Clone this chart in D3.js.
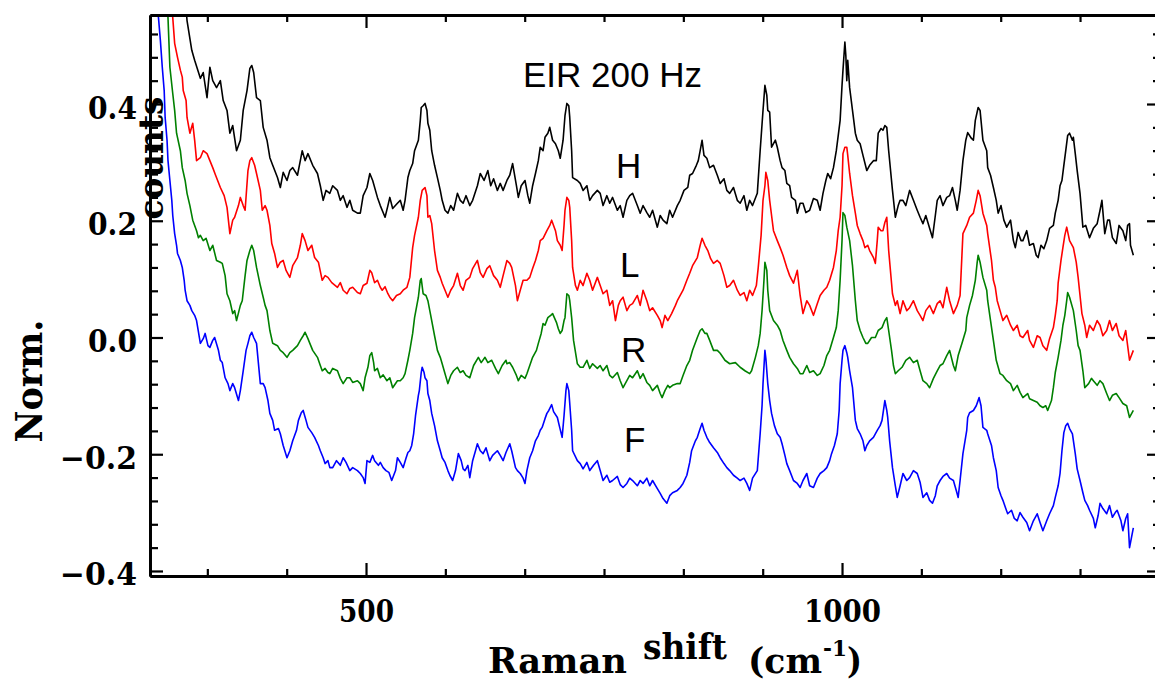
<!DOCTYPE html>
<html>
<head>
<meta charset="utf-8">
<script src="https://cdn.jsdelivr.net/npm/d3@7"></script>
<style>
  body{margin:0;background:#fff}
  svg{display:block}
</style>
</head>
<body>
<script>
// ticks
const xMajor=[500,1000]
const xMinor=[333.33,416.67,583.33,666.67,750,833.33,916.67,1083.33,1166.67,1250,1333.33]
const yMajor=[-0.4,-0.2,0,0.2,0.4]
const yMinor=[-0.36,-0.32,-0.28,-0.24,-0.16,-0.12,-0.08,-0.04,0.04,0.08,0.12,0.16,0.24,0.28,0.32,0.36,0.44,0.48,0.52]
const yLabels=["\u22120.4","\u22120.2","0.0","0.2","0.4"]
const seriesNames=["H","L","R","F"]

// [Raman shift cm-1, normalised counts]
const seriesH=[[309,0.600],[312,0.543],[317,0.492],[320,0.475],[326,0.444],[329,0.454],[333,0.411],[336,0.463],[339,0.440],[343,0.428],[347,0.440],[350,0.406],[354,0.389],[357,0.350],[360,0.363],[364,0.320],[368,0.338],[371,0.389],[375,0.423],[378,0.461],[380,0.466],[382,0.454],[385,0.411],[389,0.406],[392,0.360],[396,0.338],[399,0.308],[402,0.295],[407,0.274],[410,0.257],[413,0.283],[417,0.269],[420,0.286],[423,0.291],[428,0.278],[431,0.303],[433,0.320],[436,0.303],[439,0.315],[444,0.295],[449,0.281],[452,0.260],[455,0.235],[458,0.252],[462,0.247],[465,0.260],[470,0.252],[473,0.235],[476,0.243],[480,0.223],[483,0.235],[486,0.218],[491,0.213],[494,0.213],[497,0.243],[501,0.257],[504,0.281],[507,0.269],[512,0.240],[515,0.226],[520,0.206],[523,0.226],[525,0.240],[528,0.221],[533,0.230],[536,0.235],[539,0.218],[541,0.235],[544,0.274],[546,0.286],[549,0.298],[551,0.320],[555,0.338],[557,0.372],[558,0.394],[560,0.397],[562,0.401],[564,0.389],[565,0.367],[567,0.355],[569,0.320],[572,0.295],[575,0.274],[578,0.252],[580,0.235],[583,0.218],[586,0.213],[589,0.226],[592,0.218],[596,0.247],[599,0.235],[602,0.230],[605,0.243],[609,0.226],[612,0.235],[617,0.260],[620,0.281],[624,0.269],[628,0.286],[631,0.260],[634,0.272],[638,0.252],[641,0.264],[644,0.252],[648,0.269],[651,0.278],[654,0.298],[658,0.260],[660,0.240],[663,0.260],[667,0.269],[670,0.243],[672,0.230],[675,0.260],[678,0.281],[681,0.303],[683,0.326],[686,0.320],[688,0.343],[691,0.350],[693,0.360],[696,0.338],[699,0.332],[702,0.320],[704,0.307],[707,0.338],[709,0.380],[711,0.401],[713,0.397],[714,0.377],[716,0.320],[717,0.274],[722,0.269],[725,0.264],[728,0.252],[732,0.260],[735,0.235],[738,0.243],[743,0.252],[746,0.247],[749,0.226],[753,0.243],[756,0.230],[759,0.240],[764,0.218],[767,0.226],[770,0.206],[774,0.235],[777,0.243],[780,0.247],[785,0.226],[788,0.213],[791,0.226],[795,0.214],[798,0.206],[801,0.218],[806,0.189],[809,0.209],[812,0.201],[816,0.195],[819,0.218],[822,0.206],[827,0.226],[830,0.235],[834,0.252],[838,0.257],[840,0.278],[843,0.281],[847,0.295],[849,0.303],[851,0.320],[853,0.338],[855,0.312],[858,0.307],[861,0.291],[865,0.295],[869,0.278],[872,0.264],[876,0.272],[879,0.252],[882,0.247],[886,0.257],[890,0.235],[893,0.230],[897,0.243],[900,0.218],[903,0.235],[906,0.226],[911,0.247],[914,0.320],[917,0.389],[919,0.432],[921,0.415],[922,0.389],[924,0.386],[926,0.326],[930,0.338],[932,0.326],[935,0.303],[937,0.291],[940,0.286],[942,0.264],[945,0.260],[947,0.240],[951,0.235],[953,0.213],[956,0.230],[959,0.230],[962,0.214],[966,0.218],[970,0.238],[974,0.235],[977,0.218],[980,0.247],[983,0.269],[985,0.281],[988,0.272],[991,0.291],[994,0.320],[996,0.346],[998,0.372],[1000,0.432],[1001,0.458],[1003,0.506],[1004,0.483],[1005,0.440],[1006,0.475],[1008,0.428],[1011,0.389],[1014,0.350],[1016,0.338],[1019,0.332],[1022,0.312],[1026,0.286],[1029,0.295],[1033,0.303],[1036,0.303],[1038,0.350],[1041,0.358],[1043,0.355],[1045,0.363],[1047,0.360],[1049,0.320],[1053,0.252],[1056,0.206],[1059,0.226],[1061,0.235],[1064,0.235],[1067,0.226],[1071,0.252],[1075,0.235],[1079,0.218],[1082,0.206],[1085,0.195],[1088,0.209],[1092,0.187],[1095,0.171],[1098,0.209],[1100,0.235],[1103,0.243],[1106,0.226],[1110,0.240],[1113,0.243],[1116,0.257],[1119,0.235],[1121,0.218],[1124,0.252],[1127,0.303],[1130,0.338],[1132,0.351],[1136,0.341],[1138,0.338],[1140,0.372],[1143,0.394],[1145,0.389],[1148,0.338],[1152,0.320],[1153,0.291],[1156,0.278],[1159,0.257],[1162,0.235],[1164,0.213],[1167,0.226],[1170,0.201],[1173,0.189],[1177,0.201],[1180,0.166],[1182,0.154],[1185,0.180],[1188,0.166],[1190,0.166],[1194,0.183],[1197,0.158],[1201,0.161],[1204,0.141],[1206,0.137],[1209,0.158],[1212,0.152],[1215,0.166],[1218,0.187],[1222,0.192],[1224,0.213],[1227,0.235],[1229,0.260],[1231,0.269],[1233,0.295],[1235,0.320],[1237,0.346],[1239,0.350],[1242,0.338],[1243,0.343],[1245,0.315],[1247,0.286],[1250,0.247],[1253,0.189],[1256,0.192],[1260,0.171],[1264,0.187],[1268,0.195],[1271,0.218],[1273,0.235],[1276,0.178],[1279,0.201],[1281,0.201],[1284,0.171],[1288,0.161],[1291,0.192],[1295,0.183],[1298,0.166],[1300,0.192],[1302,0.195],[1303,0.158],[1306,0.141]]

const seriesL=[[294,0.586],[297,0.548],[299,0.504],[302,0.480],[305,0.458],[307,0.446],[308,0.423],[311,0.406],[312,0.377],[315,0.350],[318,0.367],[320,0.338],[322,0.303],[326,0.308],[329,0.320],[333,0.315],[336,0.303],[339,0.291],[342,0.278],[347,0.257],[351,0.243],[354,0.223],[357,0.178],[360,0.201],[362,0.206],[366,0.226],[368,0.240],[371,0.226],[373,0.218],[376,0.286],[378,0.303],[380,0.308],[383,0.295],[385,0.281],[389,0.252],[391,0.218],[394,0.226],[396,0.218],[399,0.192],[401,0.161],[404,0.144],[407,0.120],[410,0.129],[413,0.132],[416,0.115],[420,0.103],[423,0.123],[428,0.137],[431,0.158],[433,0.178],[436,0.166],[439,0.149],[443,0.158],[446,0.137],[450,0.129],[454,0.098],[457,0.106],[460,0.103],[464,0.094],[470,0.086],[473,0.094],[476,0.081],[480,0.075],[483,0.084],[486,0.086],[491,0.077],[494,0.075],[497,0.089],[501,0.093],[504,0.115],[506,0.111],[509,0.094],[512,0.098],[515,0.086],[517,0.081],[520,0.087],[523,0.075],[525,0.069],[528,0.063],[532,0.072],[536,0.075],[539,0.081],[543,0.086],[546,0.103],[549,0.154],[551,0.175],[555,0.206],[557,0.235],[559,0.252],[562,0.257],[564,0.243],[565,0.206],[567,0.209],[569,0.195],[572,0.149],[575,0.115],[578,0.103],[580,0.093],[583,0.081],[586,0.069],[589,0.081],[592,0.089],[596,0.110],[599,0.089],[602,0.081],[605,0.098],[609,0.103],[612,0.118],[617,0.132],[620,0.111],[623,0.103],[627,0.118],[630,0.123],[634,0.106],[638,0.098],[641,0.086],[644,0.106],[648,0.132],[651,0.127],[653,0.120],[657,0.089],[659,0.063],[662,0.081],[665,0.098],[669,0.098],[672,0.103],[675,0.118],[678,0.132],[681,0.149],[683,0.166],[686,0.170],[690,0.183],[693,0.192],[695,0.201],[699,0.183],[701,0.166],[704,0.158],[706,0.149],[708,0.192],[709,0.218],[711,0.240],[713,0.235],[714,0.223],[716,0.166],[717,0.120],[720,0.089],[722,0.081],[725,0.098],[728,0.089],[732,0.110],[735,0.098],[738,0.081],[743,0.103],[746,0.089],[749,0.075],[753,0.081],[756,0.055],[759,0.063],[762,0.029],[765,0.055],[767,0.063],[770,0.069],[774,0.046],[777,0.055],[780,0.058],[785,0.072],[788,0.055],[791,0.081],[795,0.063],[798,0.046],[801,0.051],[806,0.038],[809,0.029],[811,0.017],[814,0.038],[817,0.029],[821,0.041],[825,0.055],[827,0.063],[830,0.072],[833,0.081],[837,0.098],[840,0.110],[843,0.123],[848,0.137],[851,0.158],[853,0.170],[856,0.158],[859,0.149],[862,0.135],[865,0.127],[869,0.132],[872,0.127],[876,0.106],[879,0.086],[882,0.089],[886,0.098],[890,0.081],[893,0.072],[897,0.077],[900,0.063],[903,0.081],[906,0.072],[910,0.089],[912,0.120],[915,0.175],[917,0.235],[919,0.260],[920,0.283],[922,0.269],[924,0.235],[926,0.209],[928,0.183],[932,0.166],[935,0.154],[938,0.141],[942,0.120],[945,0.106],[949,0.093],[953,0.115],[956,0.072],[959,0.041],[963,0.063],[966,0.055],[970,0.038],[974,0.058],[977,0.072],[981,0.081],[984,0.086],[987,0.098],[991,0.120],[994,0.149],[996,0.183],[998,0.206],[1000,0.260],[1001,0.315],[1003,0.326],[1005,0.326],[1006,0.312],[1008,0.281],[1011,0.243],[1014,0.213],[1016,0.192],[1019,0.178],[1022,0.166],[1024,0.154],[1027,0.158],[1029,0.149],[1033,0.137],[1035,0.127],[1037,0.166],[1038,0.189],[1041,0.183],[1043,0.183],[1045,0.197],[1047,0.206],[1049,0.149],[1053,0.075],[1056,0.055],[1058,0.063],[1061,0.041],[1064,0.063],[1068,0.046],[1071,0.051],[1075,0.063],[1079,0.046],[1082,0.038],[1085,0.029],[1088,0.046],[1092,0.055],[1096,0.041],[1100,0.058],[1103,0.063],[1106,0.051],[1110,0.086],[1113,0.063],[1117,0.041],[1121,0.055],[1124,0.072],[1127,0.178],[1131,0.192],[1134,0.206],[1138,0.213],[1141,0.235],[1143,0.252],[1145,0.243],[1148,0.213],[1152,0.192],[1153,0.178],[1157,0.132],[1159,0.098],[1161,0.086],[1163,0.063],[1166,0.046],[1169,0.029],[1173,0.038],[1177,0.021],[1180,0.012],[1184,0.021],[1187,0.003],[1190,0.000],[1195,0.012],[1197,-0.005],[1201,-0.017],[1205,0.003],[1208,0.000],[1211,-0.014],[1215,-0.022],[1218,-0.002],[1222,0.017],[1224,0.038],[1226,0.063],[1227,0.093],[1230,0.132],[1232,0.154],[1234,0.175],[1236,0.189],[1239,0.166],[1243,0.154],[1246,0.129],[1248,0.103],[1250,0.072],[1252,0.041],[1255,0.021],[1257,0.000],[1260,0.021],[1264,0.012],[1268,0.029],[1271,0.021],[1274,0.003],[1278,0.012],[1281,0.029],[1284,0.012],[1288,0.024],[1291,0.003],[1295,-0.005],[1298,0.012],[1300,-0.014],[1302,-0.039],[1306,-0.022]]

const seriesR=[[290,0.586],[292,0.548],[294,0.463],[297,0.418],[299,0.389],[301,0.350],[305,0.320],[307,0.291],[310,0.269],[312,0.247],[315,0.226],[318,0.201],[322,0.183],[324,0.171],[326,0.175],[329,0.166],[332,0.170],[336,0.149],[339,0.158],[343,0.132],[347,0.129],[349,0.127],[352,0.106],[354,0.075],[357,0.063],[360,0.041],[362,0.046],[364,0.029],[368,0.055],[370,0.063],[373,0.106],[375,0.132],[378,0.149],[380,0.158],[382,0.149],[385,0.120],[389,0.089],[392,0.069],[394,0.055],[396,0.046],[399,0.012],[402,-0.010],[407,-0.014],[410,-0.022],[413,-0.026],[417,-0.034],[420,-0.026],[423,-0.022],[428,-0.014],[431,-0.005],[434,0.003],[436,0.009],[439,-0.002],[441,-0.010],[444,-0.022],[449,-0.034],[452,-0.048],[454,-0.057],[457,-0.053],[460,-0.060],[462,-0.062],[465,-0.053],[470,-0.057],[473,-0.070],[476,-0.079],[480,-0.069],[483,-0.069],[486,-0.077],[491,-0.074],[494,-0.079],[497,-0.091],[499,-0.069],[502,-0.051],[504,-0.031],[506,-0.026],[508,-0.043],[509,-0.057],[512,-0.053],[515,-0.069],[518,-0.064],[522,-0.074],[525,-0.069],[528,-0.086],[533,-0.074],[536,-0.074],[539,-0.069],[541,-0.062],[544,-0.039],[546,-0.022],[549,0.007],[551,0.034],[555,0.069],[557,0.098],[558,0.101],[560,0.075],[563,0.072],[565,0.063],[567,0.046],[569,0.029],[572,0.003],[575,-0.022],[578,-0.034],[580,-0.045],[583,-0.062],[586,-0.079],[589,-0.065],[592,-0.057],[596,-0.051],[599,-0.060],[602,-0.057],[605,-0.065],[609,-0.069],[613,-0.048],[618,-0.034],[621,-0.043],[625,-0.034],[628,-0.043],[632,-0.039],[636,-0.053],[639,-0.062],[643,-0.048],[647,-0.039],[648,-0.045],[651,-0.043],[654,-0.051],[658,-0.065],[660,-0.074],[663,-0.065],[667,-0.070],[669,-0.062],[672,-0.048],[675,-0.034],[679,-0.022],[681,-0.010],[684,0.007],[686,0.024],[688,0.021],[691,0.034],[694,0.038],[696,0.041],[700,0.026],[702,0.015],[704,0.007],[706,0.012],[708,0.029],[709,0.034],[711,0.075],[713,0.072],[714,0.063],[716,0.034],[718,-0.005],[722,-0.045],[725,-0.051],[728,-0.051],[732,-0.039],[735,-0.053],[738,-0.045],[743,-0.053],[746,-0.048],[749,-0.057],[753,-0.048],[756,-0.065],[759,-0.069],[764,-0.060],[767,-0.074],[770,-0.086],[774,-0.074],[777,-0.065],[780,-0.069],[785,-0.057],[788,-0.070],[791,-0.062],[795,-0.077],[798,-0.082],[801,-0.091],[806,-0.082],[809,-0.096],[811,-0.103],[814,-0.091],[817,-0.082],[819,-0.086],[822,-0.082],[827,-0.079],[830,-0.079],[833,-0.065],[837,-0.048],[840,-0.039],[843,-0.022],[848,0.000],[851,0.012],[853,0.015],[856,0.007],[858,0.007],[861,-0.005],[865,-0.022],[869,-0.022],[872,-0.027],[877,-0.039],[882,-0.045],[888,-0.043],[893,-0.051],[898,-0.057],[903,-0.062],[905,-0.057],[909,-0.034],[912,-0.014],[914,0.007],[916,0.046],[918,0.098],[919,0.129],[921,0.115],[922,0.081],[924,0.046],[928,0.029],[932,0.021],[935,0.012],[938,-0.005],[942,-0.022],[945,-0.034],[949,-0.045],[953,-0.053],[956,-0.062],[959,-0.062],[963,-0.048],[966,-0.060],[970,-0.057],[974,-0.065],[977,-0.062],[981,-0.048],[984,-0.031],[987,-0.022],[991,0.000],[994,0.017],[996,0.046],[998,0.098],[1000,0.166],[1001,0.214],[1003,0.209],[1005,0.189],[1008,0.166],[1011,0.123],[1014,0.063],[1016,0.029],[1019,0.012],[1022,0.000],[1025,-0.010],[1027,-0.010],[1031,0.000],[1035,0.000],[1038,0.012],[1042,0.017],[1045,0.029],[1047,0.034],[1049,0.012],[1052,-0.022],[1054,-0.048],[1056,-0.062],[1059,-0.057],[1063,-0.051],[1067,-0.039],[1071,-0.034],[1075,-0.043],[1079,-0.039],[1082,-0.057],[1085,-0.074],[1089,-0.079],[1092,-0.086],[1096,-0.070],[1100,-0.057],[1103,-0.048],[1106,-0.045],[1110,-0.031],[1113,-0.022],[1117,-0.048],[1119,-0.057],[1122,-0.031],[1126,-0.010],[1130,0.012],[1131,0.034],[1134,0.055],[1137,0.072],[1140,0.098],[1142,0.129],[1143,0.141],[1145,0.129],[1148,0.103],[1152,0.081],[1153,0.063],[1156,0.029],[1159,-0.005],[1162,-0.039],[1166,-0.062],[1169,-0.065],[1173,-0.074],[1177,-0.079],[1180,-0.091],[1184,-0.082],[1187,-0.094],[1190,-0.103],[1195,-0.096],[1197,-0.105],[1201,-0.108],[1205,-0.111],[1208,-0.117],[1211,-0.120],[1214,-0.117],[1216,-0.125],[1220,-0.108],[1222,-0.086],[1224,-0.060],[1227,-0.034],[1230,-0.005],[1232,0.021],[1234,0.038],[1236,0.063],[1237,0.077],[1239,0.069],[1243,0.046],[1246,0.012],[1248,-0.014],[1250,-0.022],[1253,-0.057],[1255,-0.086],[1259,-0.079],[1262,-0.070],[1264,-0.074],[1268,-0.082],[1271,-0.074],[1274,-0.079],[1278,-0.096],[1281,-0.108],[1284,-0.099],[1288,-0.096],[1291,-0.103],[1295,-0.113],[1299,-0.117],[1302,-0.137],[1306,-0.125]]

const seriesF=[[279,0.586],[282,0.548],[284,0.509],[286,0.463],[288,0.423],[289,0.377],[291,0.338],[292,0.303],[294,0.269],[296,0.235],[297,0.209],[299,0.178],[301,0.158],[302,0.144],[305,0.132],[307,0.120],[309,0.098],[310,0.081],[312,0.063],[315,0.055],[317,0.046],[320,0.038],[322,0.029],[326,-0.010],[329,-0.002],[331,0.007],[334,-0.014],[336,-0.017],[339,-0.005],[341,0.000],[345,-0.022],[347,-0.039],[349,-0.043],[352,-0.069],[355,-0.079],[357,-0.091],[360,-0.079],[362,-0.086],[366,-0.108],[368,-0.091],[371,-0.057],[374,-0.022],[376,-0.010],[378,0.003],[380,0.009],[382,0.000],[385,-0.010],[389,-0.079],[392,-0.079],[394,-0.086],[397,-0.108],[399,-0.130],[402,-0.142],[404,-0.159],[408,-0.156],[410,-0.165],[413,-0.185],[417,-0.206],[420,-0.194],[423,-0.177],[427,-0.159],[429,-0.142],[432,-0.129],[434,-0.125],[437,-0.142],[439,-0.154],[443,-0.163],[446,-0.171],[450,-0.185],[452,-0.194],[455,-0.206],[457,-0.216],[460,-0.211],[462,-0.223],[465,-0.223],[469,-0.211],[473,-0.219],[476,-0.206],[479,-0.214],[483,-0.228],[486,-0.223],[491,-0.228],[494,-0.233],[497,-0.240],[499,-0.250],[501,-0.211],[504,-0.214],[507,-0.202],[509,-0.211],[513,-0.219],[515,-0.214],[518,-0.223],[521,-0.228],[524,-0.231],[527,-0.245],[531,-0.228],[533,-0.206],[536,-0.214],[539,-0.223],[542,-0.207],[544,-0.197],[546,-0.194],[548,-0.185],[550,-0.165],[552,-0.134],[555,-0.099],[556,-0.091],[558,-0.060],[559,-0.051],[561,-0.060],[562,-0.069],[564,-0.074],[565,-0.096],[567,-0.108],[569,-0.130],[572,-0.151],[575,-0.177],[578,-0.194],[580,-0.206],[583,-0.214],[586,-0.228],[588,-0.236],[591,-0.245],[594,-0.228],[597,-0.199],[600,-0.211],[602,-0.225],[604,-0.228],[607,-0.219],[609,-0.240],[612,-0.211],[615,-0.194],[617,-0.182],[620,-0.194],[623,-0.199],[626,-0.189],[630,-0.211],[633,-0.202],[638,-0.194],[641,-0.202],[644,-0.211],[647,-0.197],[651,-0.182],[653,-0.194],[657,-0.223],[659,-0.228],[662,-0.233],[665,-0.241],[667,-0.250],[669,-0.228],[672,-0.206],[675,-0.194],[678,-0.177],[681,-0.168],[683,-0.159],[685,-0.154],[688,-0.139],[690,-0.130],[692,-0.125],[695,-0.115],[697,-0.127],[701,-0.137],[703,-0.151],[706,-0.171],[708,-0.134],[710,-0.091],[711,-0.079],[713,-0.091],[714,-0.113],[716,-0.159],[717,-0.194],[722,-0.211],[725,-0.216],[728,-0.225],[732,-0.214],[735,-0.228],[739,-0.219],[743,-0.211],[746,-0.228],[749,-0.245],[753,-0.236],[756,-0.248],[759,-0.245],[764,-0.238],[767,-0.252],[770,-0.257],[774,-0.250],[777,-0.241],[780,-0.245],[785,-0.254],[788,-0.245],[791,-0.250],[795,-0.241],[798,-0.254],[801,-0.245],[806,-0.259],[809,-0.267],[812,-0.276],[816,-0.284],[819,-0.271],[822,-0.266],[827,-0.262],[830,-0.257],[833,-0.250],[837,-0.236],[840,-0.214],[842,-0.194],[846,-0.177],[848,-0.171],[851,-0.156],[853,-0.147],[855,-0.159],[858,-0.171],[861,-0.180],[865,-0.189],[869,-0.197],[872,-0.206],[876,-0.216],[879,-0.223],[882,-0.228],[886,-0.236],[890,-0.241],[893,-0.245],[897,-0.241],[900,-0.250],[903,-0.262],[906,-0.241],[911,-0.228],[914,-0.165],[916,-0.117],[917,-0.079],[919,-0.022],[920,-0.036],[922,-0.079],[924,-0.108],[926,-0.130],[929,-0.151],[932,-0.165],[935,-0.171],[937,-0.182],[940,-0.202],[942,-0.216],[945,-0.228],[949,-0.245],[953,-0.250],[956,-0.257],[959,-0.245],[963,-0.233],[966,-0.254],[970,-0.257],[974,-0.241],[977,-0.233],[981,-0.228],[984,-0.223],[987,-0.211],[989,-0.199],[992,-0.185],[995,-0.165],[997,-0.125],[998,-0.079],[1000,-0.039],[1001,-0.022],[1003,-0.014],[1005,-0.026],[1006,-0.034],[1008,-0.057],[1011,-0.086],[1014,-0.142],[1016,-0.156],[1019,-0.165],[1022,-0.177],[1024,-0.194],[1026,-0.185],[1029,-0.177],[1033,-0.171],[1037,-0.159],[1040,-0.151],[1042,-0.142],[1045,-0.108],[1047,-0.125],[1048,-0.137],[1050,-0.177],[1053,-0.223],[1056,-0.254],[1058,-0.274],[1061,-0.254],[1064,-0.233],[1068,-0.245],[1071,-0.240],[1075,-0.228],[1079,-0.233],[1082,-0.248],[1085,-0.274],[1089,-0.266],[1092,-0.279],[1095,-0.284],[1098,-0.271],[1100,-0.254],[1103,-0.245],[1106,-0.238],[1110,-0.233],[1113,-0.241],[1117,-0.245],[1120,-0.262],[1122,-0.274],[1124,-0.245],[1127,-0.199],[1131,-0.159],[1132,-0.137],[1134,-0.129],[1138,-0.125],[1141,-0.117],[1144,-0.103],[1146,-0.117],[1148,-0.154],[1152,-0.159],[1153,-0.165],[1157,-0.185],[1159,-0.206],[1162,-0.228],[1164,-0.257],[1167,-0.271],[1169,-0.279],[1172,-0.293],[1174,-0.302],[1178,-0.296],[1181,-0.310],[1184,-0.314],[1187,-0.300],[1190,-0.308],[1194,-0.317],[1197,-0.331],[1201,-0.314],[1205,-0.302],[1208,-0.317],[1211,-0.331],[1215,-0.314],[1218,-0.302],[1222,-0.288],[1224,-0.274],[1227,-0.254],[1229,-0.233],[1231,-0.194],[1233,-0.163],[1235,-0.151],[1237,-0.147],[1239,-0.156],[1242,-0.165],[1245,-0.199],[1247,-0.225],[1250,-0.245],[1253,-0.266],[1255,-0.279],[1258,-0.288],[1260,-0.296],[1264,-0.310],[1266,-0.326],[1269,-0.305],[1271,-0.284],[1274,-0.293],[1278,-0.302],[1281,-0.288],[1284,-0.308],[1287,-0.300],[1289,-0.296],[1293,-0.314],[1295,-0.331],[1298,-0.310],[1300,-0.302],[1302,-0.360],[1306,-0.326]]

const allSeries=[seriesH,seriesL,seriesR,seriesF]
const colors=["#000000","#ff0000","#008000","#0000ff"]

const W=1155,H=684
const plotLeft=150,plotRight=1160,plotTop=15,plotBottom=576

const svg=d3.select("body").append("svg").attr("width",W).attr("height",H)

const x=d3.scaleLinear().domain([273.1,1334]).range([plotLeft,plotRight])
const y=d3.scaleLinear().domain([-0.4086,0.5525]).range([plotBottom,plotTop])

svg.append("clipPath").attr("id","plot")
  .append("rect").attr("x",plotLeft).attr("y",plotTop)
  .attr("width",plotRight-plotLeft).attr("height",plotBottom-plotTop)

const line=d3.line().x(d=>x(d[0])).y(d=>y(d[1]))

svg.append("g").attr("clip-path","url(#plot)")
  .selectAll("path").data(allSeries).join("path")
  .attr("d",line)
  .attr("fill","none")
  .attr("stroke",(d,i)=>colors[i])
  .attr("stroke-width",1.6)
  .attr("stroke-linejoin","round")

// axes, ticks pointing inward
function axisGroup(gen,tx,ty,vals,size,withLabels){
  let g=svg.append("g").attr("transform",`translate(${tx},${ty})`)
  let a=gen.tickValues(vals).tickSize(-size).tickSizeOuter(0)
  a=withLabels?a.tickFormat(d3.format("d")):a.tickFormat("")
  g.call(a)
  g.selectAll(".tick line").attr("stroke","#000").attr("stroke-width",2.2)
  g.select(".domain").attr("stroke","#000").attr("stroke-width",2.8)
  return g
}
axisGroup(d3.axisBottom(x),0,plotBottom,xMinor,7,false)
let gxb=axisGroup(d3.axisBottom(x),0,plotBottom,xMajor,13,true)
axisGroup(d3.axisTop(x),0,plotTop,xMinor,7,false)
axisGroup(d3.axisTop(x),0,plotTop,xMajor,13,false)
axisGroup(d3.axisLeft(y),plotLeft,0,yMinor,8,false)
let gyl=axisGroup(d3.axisLeft(y),plotLeft,0,yMajor,13,true)
axisGroup(d3.axisRight(y),plotRight,0,yMinor,7,false)
axisGroup(d3.axisRight(y),plotRight,0,yMajor,13,false)

const serif='"DejaVu Serif", serif'
const xLabelWidth=[55,77]
const yLabelWidth=[77,77,49,49,49]
gxb.attr("font-family",null).attr("font-size",null)
gxb.selectAll("text")
  .attr("y",46).attr("dy",null)
  .attr("font-family",serif).attr("font-weight","bold").attr("font-size",31)
  .attr("fill","#000")
  .attr("textLength",(d,i)=>xLabelWidth[i]).attr("lengthAdjust","spacingAndGlyphs")
gyl.attr("font-family",null).attr("font-size",null)
gyl.selectAll("text")
  .text((d,i)=>yLabels[i])
  .attr("x",-13).attr("y",14).attr("dy",null)
  .attr("font-family",serif).attr("font-weight","bold").attr("font-size",31)
  .attr("fill","#000")
  .attr("textLength",(d,i)=>yLabelWidth[i]).attr("lengthAdjust","spacingAndGlyphs")

function label(txt,px,py,size,len,rot,anchor){
  let t=svg.append("text").text(txt)
    .attr("font-family",serif).attr("font-weight","bold").attr("font-size",size)
    .attr("text-anchor",anchor||"start")
    .attr("transform",`translate(${px},${py})`+(rot?" rotate(-90)":""))
  if(len) t.attr("textLength",len).attr("lengthAdjust","spacingAndGlyphs")
  return t
}
// y title, broken in two pieces as in the original
label("Norm.",42,381,38,123,true,"middle")
label("counts",163,158,33,123,true,"middle")
// x title
label("Raman",488,673,36,139)
label("shift",643,659,36,84)
label("(cm",748,673,36,74)
label("-1",823,656,22,24)
label(")",847,673,36,15)

// plain sans labels
const sans='"Liberation Sans", Arial, sans-serif'
svg.append("text").text("EIR 200 Hz")
  .attr("x",523).attr("y",87)
  .attr("font-family",sans).attr("font-size",35)
const nameX=[616,620,621,624]
const nameY=[178,277,362,452]
svg.selectAll("text.name").data(seriesNames).join("text")
  .attr("class","name")
  .attr("x",(d,i)=>nameX[i]).attr("y",(d,i)=>nameY[i])
  .attr("font-family",sans).attr("font-size",35)
  .text(d=>d)
</script>
</body>
</html>
